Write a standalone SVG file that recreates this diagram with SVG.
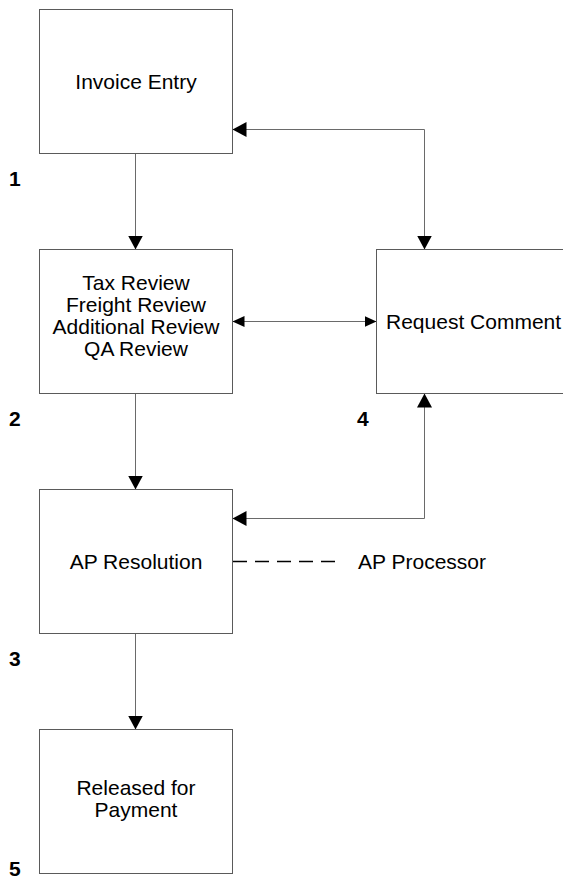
<svg xmlns="http://www.w3.org/2000/svg" width="563" height="879" viewBox="0 0 563 879">
  <style>
    .box { fill: #ffffff; stroke: #5a5a5a; stroke-width: 1; }
    .lbl { font-family: "Liberation Sans", Arial, sans-serif; font-size: 21px; fill: #000000; }
    .mid { text-anchor: middle; }
    .num { font-family: "Liberation Sans", Arial, sans-serif; font-size: 21px; font-weight: bold; fill: #000000; }
    .link { fill: none; stroke: #6a6a6a; stroke-width: 1; }
    .dash { fill: none; stroke: #000000; stroke-width: 1.6; stroke-dasharray: 14 8; }
  </style>
  <defs>
    <marker id="arrow" markerUnits="userSpaceOnUse" markerWidth="14" markerHeight="15" refX="14" refY="7.5" orient="auto-start-reverse">
      <path d="M0,0 L14,7.5 L0,15 Z" fill="#000000"/>
    </marker>
    <marker id="arrow-sm" markerUnits="userSpaceOnUse" markerWidth="12" markerHeight="11" refX="12" refY="5.5" orient="auto-start-reverse">
      <path d="M0,0 L12,5.5 L0,11 Z" fill="#000000"/>
    </marker>
  </defs>

  <rect width="563" height="879" fill="#ffffff"/>

  <!-- connectors -->
  <g id="connectors">
    <line class="link" x1="135.5" y1="153.5" x2="135.5" y2="249.5" marker-end="url(#arrow)"/>
    <line class="link" x1="135.5" y1="393.5" x2="135.5" y2="489.5" marker-end="url(#arrow)"/>
    <line class="link" x1="135.5" y1="633.5" x2="135.5" y2="729.5" marker-end="url(#arrow)"/>
    <path class="link" d="M232.5,129.5 H424.5 V249.5" marker-start="url(#arrow)" marker-end="url(#arrow)"/>
    <path class="link" d="M232.5,321.5 H376.5" marker-start="url(#arrow-sm)" marker-end="url(#arrow-sm)"/>
    <path class="link" d="M232.5,518.5 H424.5 V393.5" marker-start="url(#arrow)" marker-end="url(#arrow)"/>
    <path class="dash" d="M233,561.5 H340"/>
  </g>

  <!-- step 1 -->
  <g id="invoice-entry">
    <rect class="box" x="39.5" y="9.5" width="193" height="144"/>
    <text class="lbl mid" x="136" y="89">Invoice Entry</text>
    <text class="num" x="9" y="186">1</text>
  </g>

  <!-- step 2 -->
  <g id="reviews">
    <rect class="box" x="39.5" y="249.5" width="193" height="144"/>
    <text class="lbl mid" x="136" y="290">Tax Review</text>
    <text class="lbl mid" x="136" y="312">Freight Review</text>
    <text class="lbl mid" x="136" y="334">Additional Review</text>
    <text class="lbl mid" x="136" y="356">QA Review</text>
    <text class="num" x="9" y="426">2</text>
  </g>

  <!-- step 3 -->
  <g id="ap-resolution">
    <rect class="box" x="39.5" y="489.5" width="193" height="144"/>
    <text class="lbl mid" x="136" y="569">AP Resolution</text>
    <text class="num" x="9" y="666">3</text>
  </g>

  <!-- step 4 -->
  <g id="request-comment">
    <rect class="box" x="376.5" y="249.5" width="200" height="144"/>
    <text class="lbl" x="386" y="328.5">Request Comment</text>
    <text class="num" x="357" y="426">4</text>
  </g>

  <!-- role label on the dashed link -->
  <g id="ap-processor">
    <text class="lbl" x="358" y="569">AP Processor</text>
  </g>

  <!-- step 5 -->
  <g id="released">
    <rect class="box" x="39.5" y="729.5" width="193" height="144"/>
    <text class="lbl mid" x="136" y="795">Released for</text>
    <text class="lbl mid" x="136" y="817">Payment</text>
    <text class="num" x="9" y="876">5</text>
  </g>
</svg>
